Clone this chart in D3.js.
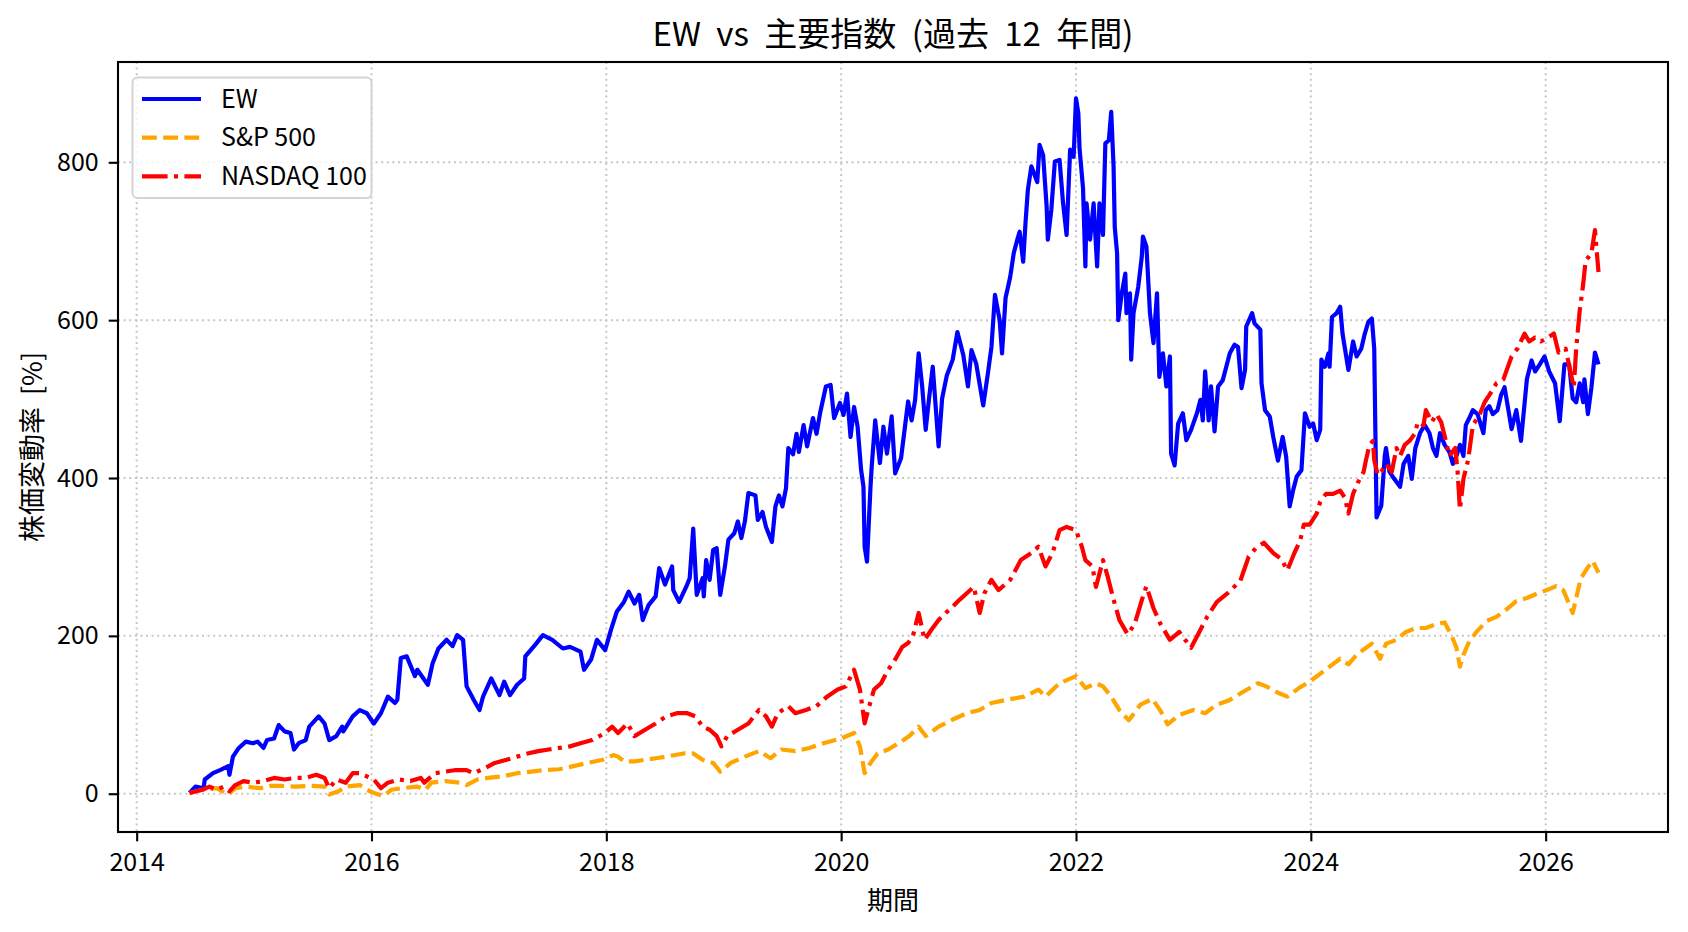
<!DOCTYPE html>
<html><head><meta charset="utf-8">
<script src="https://cdn.jsdelivr.net/npm/d3@7"></script>
<style>body{margin:0;background:#fff}svg{display:block}</style>
</head><body>
<script>
// ---------- DATA ----------
const title = "EW vs 主要指数 (過去 12 年間)";
const xLabel = "期間";
const yLabel = "株価変動率 [%]";
const seriesNames = ["EW", "S&P 500", "NASDAQ 100"];
const xTicks = [2014, 2016, 2018, 2020, 2022, 2024, 2026];
const yTicks = [0, 200, 400, 600, 800];

const ewYears = [2014.45,2014.50,2014.57,2014.58,2014.65,2014.71,2014.78,2014.79,2014.82,2014.87,2014.93,2014.99,2015.03,2015.08,2015.11,2015.17,2015.21,2015.26,2015.31,2015.34,2015.38,2015.44,2015.47,2015.55,2015.60,2015.64,2015.70,2015.75,2015.76,2015.84,2015.90,2015.96,2016.02,2016.08,2016.14,2016.20,2016.22,2016.25,2016.30,2016.37,2016.39,2016.48,2016.52,2016.57,2016.64,2016.69,2016.73,2016.78,2016.81,2016.87,2016.92,2016.95,2017.02,2017.09,2017.13,2017.18,2017.24,2017.30,2017.31,2017.39,2017.46,2017.54,2017.63,2017.69,2017.78,2017.81,2017.87,2017.92,2017.99,2018.04,2018.09,2018.15,2018.19,2018.24,2018.28,2018.31,2018.36,2018.42,2018.45,2018.50,2018.56,2018.57,2018.62,2018.68,2018.71,2018.74,2018.77,2018.82,2018.83,2018.85,2018.88,2018.91,2018.94,2018.97,2019.01,2019.04,2019.09,2019.12,2019.15,2019.18,2019.21,2019.27,2019.29,2019.33,2019.36,2019.41,2019.44,2019.47,2019.50,2019.53,2019.55,2019.59,2019.62,2019.64,2019.68,2019.71,2019.76,2019.79,2019.82,2019.87,2019.91,2019.94,2019.99,2020.02,2020.05,2020.08,2020.11,2020.14,2020.17,2020.19,2020.20,2020.22,2020.25,2020.26,2020.29,2020.33,2020.36,2020.39,2020.43,2020.46,2020.51,2020.54,2020.57,2020.60,2020.63,2020.66,2020.69,2020.72,2020.75,2020.78,2020.83,2020.86,2020.90,2020.95,2020.99,2021.04,2021.08,2021.11,2021.15,2021.21,2021.25,2021.28,2021.31,2021.35,2021.37,2021.40,2021.44,2021.47,2021.50,2021.52,2021.55,2021.57,2021.59,2021.62,2021.67,2021.69,2021.72,2021.75,2021.76,2021.79,2021.82,2021.86,2021.89,2021.92,2021.95,2021.98,2022.00,2022.02,2022.03,2022.06,2022.08,2022.09,2022.12,2022.15,2022.18,2022.20,2022.23,2022.25,2022.28,2022.30,2022.32,2022.33,2022.35,2022.36,2022.39,2022.42,2022.43,2022.46,2022.47,2022.49,2022.53,2022.56,2022.57,2022.60,2022.63,2022.66,2022.69,2022.71,2022.74,2022.77,2022.80,2022.81,2022.84,2022.87,2022.91,2022.94,2022.98,2023.03,2023.06,2023.08,2023.10,2023.13,2023.15,2023.18,2023.21,2023.25,2023.28,2023.31,2023.35,2023.38,2023.41,2023.44,2023.45,2023.50,2023.52,2023.57,2023.58,2023.61,2023.65,2023.68,2023.72,2023.76,2023.79,2023.82,2023.85,2023.88,2023.92,2023.95,2023.99,2024.02,2024.05,2024.08,2024.09,2024.12,2024.15,2024.16,2024.18,2024.22,2024.25,2024.27,2024.32,2024.36,2024.39,2024.43,2024.46,2024.49,2024.52,2024.54,2024.56,2024.60,2024.63,2024.64,2024.67,2024.71,2024.76,2024.79,2024.83,2024.86,2024.89,2024.93,2024.97,2025.01,2025.04,2025.07,2025.10,2025.14,2025.18,2025.21,2025.24,2025.27,2025.30,2025.32,2025.35,2025.38,2025.42,2025.47,2025.49,2025.52,2025.55,2025.59,2025.62,2025.65,2025.71,2025.75,2025.79,2025.84,2025.88,2025.91,2025.95,2025.99,2026.03,2026.08,2026.12,2026.16,2026.20,2026.23,2026.26,2026.29,2026.32,2026.33,2026.36,2026.39,2026.42,2026.45];
const ewValues = [1,9,7,18,26,30,35,24,47,58,66,64,66,58,68,70,87,79,77,56,64,68,85,98,89,68,73,85,79,98,106,102,89,102,123,115,119,172,174,149,157,138,165,184,195,187,201,195,136,119,106,123,146,125,142,125,138,146,174,188,201,195,184,186,180,157,170,195,182,208,231,243,256,241,252,220,239,250,286,265,288,258,243,262,273,336,252,273,250,296,271,309,311,252,288,322,330,345,324,345,381,378,347,357,338,319,364,378,364,387,438,430,456,433,467,440,476,456,482,516,518,476,495,480,507,452,490,465,410,389,313,294,389,414,473,419,465,431,478,406,425,461,497,473,499,558,516,461,503,541,440,501,530,550,585,556,516,562,545,492,533,566,632,600,558,628,655,685,702,712,674,723,765,795,775,822,809,744,702,740,801,803,748,708,816,807,881,862,818,767,668,748,702,748,668,748,708,824,828,864,795,718,685,600,634,659,609,634,550,609,642,680,706,693,609,571,634,528,558,516,554,431,416,469,482,448,461,482,499,473,535,473,516,459,516,524,541,558,569,566,514,537,592,609,596,588,520,486,478,452,422,452,427,364,385,402,410,482,465,469,448,461,550,541,558,541,604,609,617,583,537,573,554,564,583,598,602,564,350,365,428,438,408,399,389,418,428,399,438,457,467,457,438,428,457,442,433,418,428,442,428,467,476,486,481,457,486,491,481,486,505,515,462,486,447,525,549,535,544,554,535,520,472,544,544,501,496,520,496,525,481,515,559,544];

const spYears = [2014.45,2014.56,2014.68,2014.78,2014.84,2014.93,2015.05,2015.14,2015.23,2015.35,2015.47,2015.60,2015.64,2015.72,2015.78,2015.90,2015.96,2016.02,2016.10,2016.17,2016.26,2016.39,2016.46,2016.51,2016.63,2016.75,2016.81,2016.90,2016.99,2017.12,2017.24,2017.36,2017.48,2017.60,2017.72,2017.84,2017.97,2018.06,2018.10,2018.15,2018.24,2018.33,2018.42,2018.51,2018.66,2018.74,2018.82,2018.91,2018.97,2019.06,2019.18,2019.30,2019.40,2019.49,2019.61,2019.73,2019.85,2020.00,2020.11,2020.16,2020.20,2020.25,2020.31,2020.40,2020.49,2020.58,2020.66,2020.72,2020.83,2020.95,2021.07,2021.18,2021.28,2021.41,2021.56,2021.68,2021.74,2021.86,2022.00,2022.08,2022.17,2022.23,2022.30,2022.37,2022.45,2022.55,2022.65,2022.72,2022.78,2022.88,2023.00,2023.10,2023.20,2023.30,2023.40,2023.55,2023.62,2023.72,2023.80,2023.91,2023.99,2024.08,2024.16,2024.25,2024.32,2024.39,2024.47,2024.52,2024.59,2024.64,2024.73,2024.81,2024.90,2024.98,2025.07,2025.14,2025.20,2025.24,2025.27,2025.30,2025.34,2025.41,2025.50,2025.58,2025.67,2025.75,2025.84,2025.92,2026.01,2026.09,2026.15,2026.19,2026.23,2026.26,2026.30,2026.36,2026.40,2026.45];
const spValues = [1,5,7,-1,7,9,7,10,10,9,10,9,-1,3,9,11,5,1,-3,5,7,9,5,14,16,14,11,18,20,22,26,28,30,31,35,39,43,49,47,41,41,43,45,47,51,51,43,39,28,39,47,54,45,56,54,58,64,70,77,60,26,39,51,56,64,73,85,73,85,94,102,106,115,119,123,132,123,140,149,134,140,136,123,106,93,113,120,105,88,100,106,102,113,118,127,140,136,128,123,135,142,152,161,171,164,176,185,190,171,190,195,205,210,210,215,217,200,185,161,176,190,205,219,224,234,244,248,253,258,263,258,244,229,248,273,287,295,280];

const ndxYears = [2014.45,2014.56,2014.62,2014.68,2014.74,2014.79,2014.84,2014.91,2014.99,2015.08,2015.17,2015.26,2015.35,2015.44,2015.53,2015.60,2015.64,2015.70,2015.78,2015.84,2015.90,2015.96,2016.02,2016.08,2016.14,2016.23,2016.33,2016.42,2016.45,2016.54,2016.63,2016.72,2016.81,2016.87,2016.96,2017.05,2017.15,2017.24,2017.33,2017.42,2017.51,2017.60,2017.69,2017.78,2017.88,2017.99,2018.05,2018.10,2018.18,2018.24,2018.33,2018.42,2018.51,2018.60,2018.69,2018.76,2018.82,2018.88,2018.94,2018.98,2019.03,2019.12,2019.21,2019.30,2019.36,2019.41,2019.46,2019.55,2019.61,2019.70,2019.79,2019.88,2019.97,2020.04,2020.11,2020.16,2020.20,2020.23,2020.28,2020.34,2020.40,2020.46,2020.52,2020.57,2020.61,2020.66,2020.71,2020.77,2020.83,2020.89,2020.95,2021.01,2021.07,2021.13,2021.18,2021.22,2021.28,2021.34,2021.44,2021.53,2021.62,2021.68,2021.74,2021.80,2021.86,2021.92,2022.00,2022.05,2022.08,2022.14,2022.17,2022.23,2022.27,2022.32,2022.37,2022.44,2022.50,2022.56,2022.60,2022.66,2022.72,2022.80,2022.88,2022.98,2023.05,2023.12,2023.20,2023.30,2023.40,2023.47,2023.53,2023.60,2023.68,2023.75,2023.80,2023.86,2023.91,2023.94,2023.99,2024.05,2024.08,2024.13,2024.19,2024.25,2024.29,2024.32,2024.36,2024.40,2024.45,2024.47,2024.50,2024.53,2024.54,2024.57,2024.60,2024.64,2024.69,2024.73,2024.76,2024.80,2024.84,2024.89,2024.91,2024.96,2024.98,2025.03,2025.07,2025.11,2025.15,2025.18,2025.23,2025.25,2025.27,2025.30,2025.34,2025.38,2025.44,2025.48,2025.52,2025.58,2025.64,2025.71,2025.76,2025.82,2025.86,2025.91,2025.96,2026.02,2026.07,2026.11,2026.17,2026.21,2026.24,2026.26,2026.29,2026.32,2026.34,2026.39,2026.42,2026.45];
const ndxValues = [1,5,9,5,9,3,11,16,14,16,20,18,20,20,24,20,7,18,14,26,26,22,18,7,14,18,16,20,14,26,28,30,30,26,32,39,43,47,51,54,56,58,60,64,68,77,85,77,89,73,81,89,98,102,102,98,85,81,73,60,73,81,89,106,98,85,102,111,102,106,111,123,132,136,157,132,89,106,132,140,157,170,186,191,199,229,195,208,220,229,237,246,254,262,229,254,271,258,271,296,305,313,288,305,334,338,334,313,296,288,262,296,275,246,220,202,215,245,263,235,215,195,205,185,205,225,243,255,270,300,311,318,305,297,283,305,321,341,341,355,370,380,380,384,375,355,380,394,408,423,442,447,423,404,408,418,408,438,428,442,447,457,471,467,486,471,481,471,447,428,438,408,360,399,423,467,481,496,505,520,525,554,564,583,573,578,573,578,583,559,564,535,515,564,612,646,675,685,714,661];

// ---------- LAYOUT ----------
const W = 1688, H = 932;
const M = {left: 118, right: 1668, top: 62, bottom: 832};
const FONT = "'Noto Sans CJK JP', 'Noto Sans', sans-serif";

const svg = d3.select("body").append("svg").attr("width", W).attr("height", H)
  .style("font-family", FONT);

const x = d3.scaleLinear().domain([2013.841, 2027.042]).range([M.left, M.right]);
const y = d3.scaleLinear().domain([-48.5, 927.1]).range([M.bottom, M.top]);

// grid
const grid = svg.append("g").attr("stroke", "#c6c6c6").attr("stroke-width", 2)
  .attr("stroke-dasharray", "2,3.6");
grid.selectAll("line.gx").data(xTicks).join("line")
  .attr("x1", d => x(d)).attr("x2", d => x(d)).attr("y1", M.top).attr("y2", M.bottom);
grid.selectAll("line.gy").data(yTicks).join("line")
  .attr("y1", d => y(d)).attr("y2", d => y(d)).attr("x1", M.left).attr("x2", M.right);

// series
const line = d3.line().x(d => x(d[0])).y(d => y(d[1]));
const series = [
  {name: seriesNames[0], years: ewYears, values: ewValues, color: "#0000ff", dash: null},
  {name: seriesNames[1], years: spYears, values: spValues, color: "#ffa500", dash: "14.8,6.4"},
  {name: seriesNames[2], years: ndxYears, values: ndxValues, color: "#ff0000", dash: "25.6,6.4,4,6.4"}
];
series.forEach(s => {
  svg.append("path")
    .datum(s.years.map((t, i) => [t, s.values[i]]))
    .attr("d", line)
    .attr("fill", "none")
    .attr("stroke", s.color)
    .attr("stroke-width", 4.2)
    .attr("stroke-linejoin", "round")
    .attr("stroke-dasharray", s.dash);
});

// axes
const xAxis = d3.axisBottom(x).tickValues(xTicks).tickFormat(d3.format("d"))
  .tickSize(9.3).tickSizeOuter(0).tickPadding(12);
const yAxis = d3.axisLeft(y).tickValues(yTicks).tickFormat(d3.format("d"))
  .tickSize(9.3).tickSizeOuter(0).tickPadding(10);
const gx = svg.append("g").attr("transform", `translate(0,${M.bottom})`).call(xAxis);
const gy = svg.append("g").attr("transform", `translate(${M.left},0)`).call(yAxis);
[gx, gy].forEach(g => {
  g.select(".domain").remove();
  g.selectAll(".tick line").attr("stroke", "#000").attr("stroke-width", 2.1);
  g.selectAll(".tick text").attr("fill", "#000").style("font-size", "25px")
    .style("font-family", FONT);
});

// frame
svg.append("rect").attr("x", M.left).attr("y", M.top)
  .attr("width", M.right - M.left).attr("height", M.bottom - M.top)
  .attr("fill", "none").attr("stroke", "#000").attr("stroke-width", 2.1);

// title & labels
svg.append("text").attr("x", (M.left + M.right) / 2).attr("y", 46)
  .attr("text-anchor", "middle").style("font-size", "33px").style("word-spacing", "8px")
  .text(title);
svg.append("text").attr("x", (M.left + M.right) / 2).attr("y", 910)
  .attr("text-anchor", "middle").style("font-size", "26px").text(xLabel);
svg.append("text").attr("transform", `translate(42,${(M.top + M.bottom) / 2}) rotate(-90)`)
  .attr("text-anchor", "middle").style("font-size", "27px").style("word-spacing", "6px")
  .text(yLabel);

// legend
const lg = svg.append("g");
lg.append("rect").attr("x", 132.5).attr("y", 77.5).attr("width", 239).attr("height", 120.5)
  .attr("rx", 5).attr("fill", "#fff").attr("fill-opacity", 0.8)
  .attr("stroke", "#d4d4d4").attr("stroke-width", 2);
const rowY = [99, 137.7, 176.4];
series.forEach((s, i) => {
  lg.append("line").attr("x1", 142).attr("x2", 201).attr("y1", rowY[i]).attr("y2", rowY[i])
    .attr("stroke", s.color).attr("stroke-width", 4.2).attr("stroke-dasharray", s.dash);
  lg.append("text").attr("x", 221).attr("y", rowY[i]).attr("dy", "0.35em")
    .style("font-size", "25px").text(s.name);
});
</script>
</body></html>
